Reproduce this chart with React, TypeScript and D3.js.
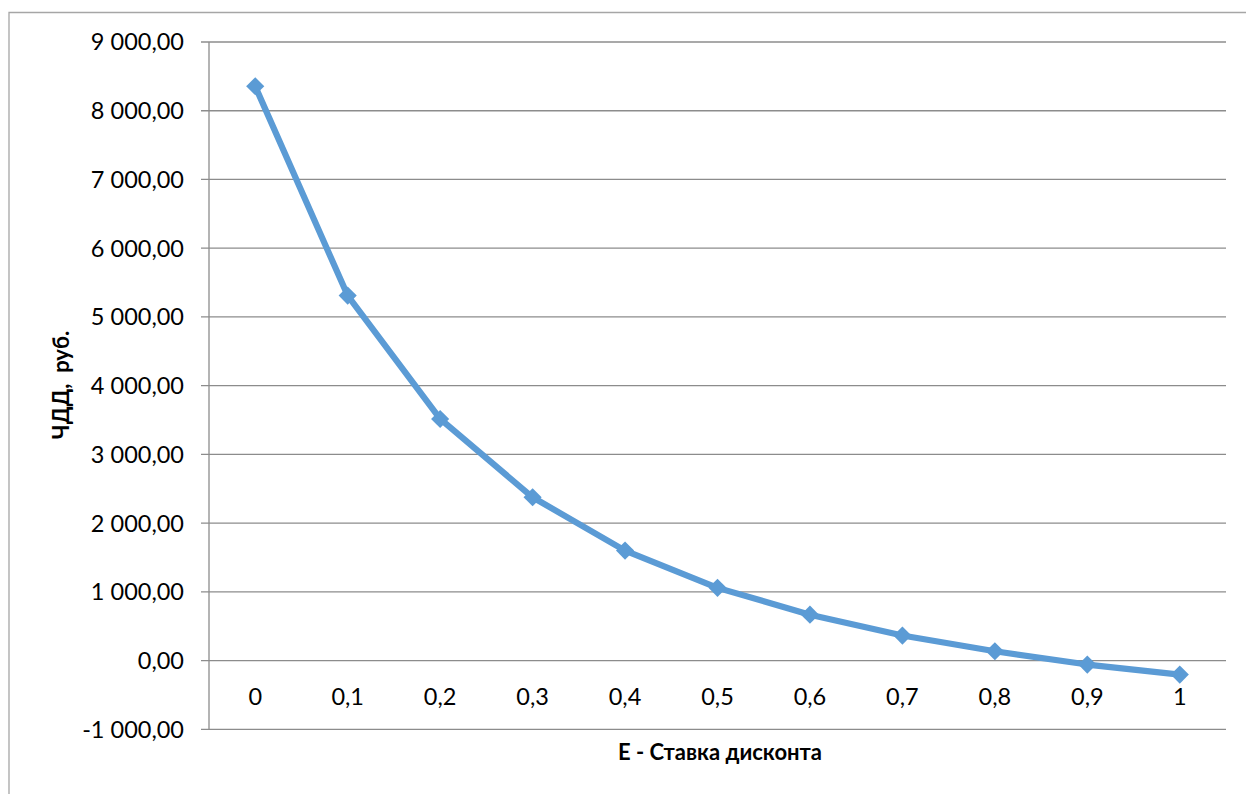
import React from "react";
import * as d3 from "d3";

const categories = ["0", "0,1", "0,2", "0,3", "0,4", "0,5", "0,6", "0,7", "0,8", "0,9", "1"];
const npvValues = [8356, 5310, 3515, 2376, 1600, 1058, 668, 364, 135, -58, -204];
const yTicks = [-1000, 0, 1000, 2000, 3000, 4000, 5000, 6000, 7000, 8000, 9000];
const yTitle = "ЧДД,  руб.";
const xTitle = "Е - Ставка дисконта";

const W = 1246;
const H = 794;
const plot = { left: 209, right: 1226, top: 42, bottom: 729.3 };
const font = "Lato, 'Open Sans', sans-serif";

const fmt = (v: number) => {
  const s = d3.format(",.2f")(v);
  return s.replace(/,/g, " ").replace(".", ",").replace("−", "-");
};

export default function App() {
  const x = d3.scaleBand<string>().domain(categories).range([plot.left, plot.right]);
  const y = d3.scaleLinear().domain([-1000, 9000]).range([plot.bottom, plot.top]);
  const cx = (c: string) => (x(c) as number) + x.bandwidth() / 2;
  const line = d3
    .line<number>()
    .x((_, i) => cx(categories[i]))
    .y((d) => y(d));
  const diamond = d3.symbol().type(d3.symbolDiamond2).size(210)() as string;

  return (
    <svg width={W} height={H} style={{ position: "absolute", left: 0, top: 0, background: "#fff" }}>
      <rect x={0} y={0} width={W} height={H} fill="#fff" />
      <path d={`M9,${H} V12.5 H${W}`} fill="none" stroke="#a6a6a6" strokeWidth={1.3} />
      {yTicks.map((t) => (
        <g key={t}>
          <line x1={201} x2={plot.right} y1={y(t)} y2={y(t)} stroke="#8c8c8c" strokeWidth={1.3} />
          <text
            x={184}
            y={y(t)}
            dy="0.36em"
            textAnchor="end"
            fontFamily={font}
            fontSize={23.5}
            fill="#000"
          >
            {fmt(t)}
          </text>
        </g>
      ))}
      <line x1={plot.left} x2={plot.left} y1={plot.top} y2={plot.bottom} stroke="#8c8c8c" strokeWidth={1.3} />
      {categories.map((c) => (
        <text key={c} x={cx(c)} y={697} dy="0.36em" textAnchor="middle" fontFamily={font} fontSize={23.5} fill="#000">
          {c}
        </text>
      ))}
      <path d={line(npvValues) as string} fill="none" stroke="#5b9bd5" strokeWidth={6.2} strokeLinejoin="round" />
      {npvValues.map((v, i) => (
        <path key={i} d={diamond} transform={`translate(${cx(categories[i])},${y(v)})`} fill="#5b9bd5" />
      ))}
      <text
        transform={`translate(69,385) rotate(-90)`}
        textAnchor="middle"
        fontFamily={font}
        fontWeight="bold"
        fontSize={22}
        fill="#000"
        style={{ whiteSpace: "pre" }}
      >
        {yTitle}
      </text>
      <text x={720} y={760} textAnchor="middle" fontFamily={font} fontWeight="bold" fontSize={22} fill="#000">
        {xTitle}
      </text>
    </svg>
  );
}
